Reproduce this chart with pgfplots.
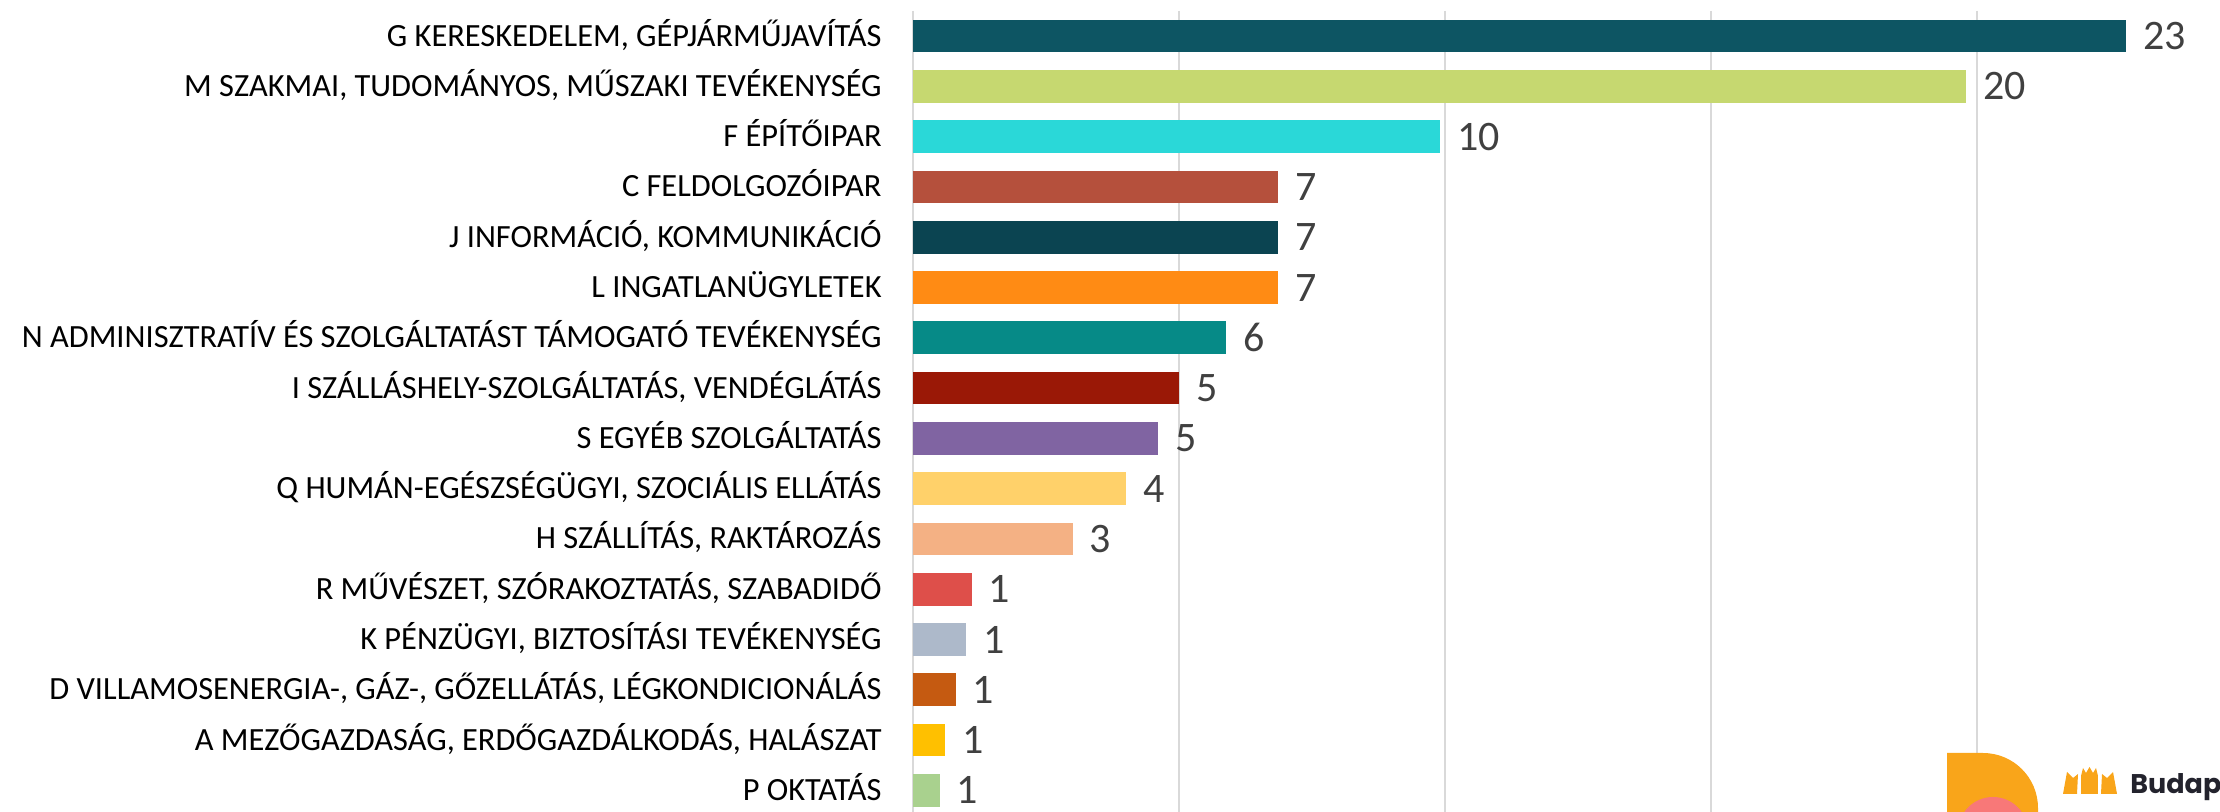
\documentclass[border=0pt]{standalone}
\usepackage{fontspec}
\setmainfont{Carlito}
\newfontfamily\pop{Poppins}
\usepackage{pgfplots}
\pgfplotsset{compat=1.18}
\definecolor{cG}{HTML}{0D5563}
\definecolor{cM}{HTML}{C6D870}
\definecolor{cF}{HTML}{2AD8D8}
\definecolor{cC}{HTML}{B5503C}
\definecolor{cJ}{HTML}{0B4451}
\definecolor{cL}{HTML}{FF8B14}
\definecolor{cN}{HTML}{068A87}
\definecolor{cI}{HTML}{9A1806}
\definecolor{cS}{HTML}{8064A2}
\definecolor{cQ}{HTML}{FFD16A}
\definecolor{cH}{HTML}{F4B184}
\definecolor{cR}{HTML}{DE4F4A}
\definecolor{cK}{HTML}{ADB9CA}
\definecolor{cD}{HTML}{C55A11}
\definecolor{cA}{HTML}{FFC000}
\definecolor{cP}{HTML}{A9D18E}
\definecolor{gridc}{HTML}{D9D9D9}
\definecolor{lab}{HTML}{404040}
\definecolor{logoor}{HTML}{F9A51A}
\definecolor{logopk}{HTML}{F87878}
\definecolor{logodk}{HTML}{23232D}
\begin{document}
\begin{tikzpicture}
\begin{axis}[
  at={(0pt,0pt)}, anchor=south west,
  width=653.5pt, height=400.5pt, scale only axis,
  xbar, bar width=0.65, bar shift=0pt,
  xmin=0, xmax=24.57, ymin=-0.5, ymax=15.43, y dir=reverse,
  xtick={0,5,10,15,20}, xticklabels={}, xmajorgrids,
  grid style={draw=gridc, line width=1pt},
  ytick={0,...,15},
  yticklabels={
    {G KERESKEDELEM, GÉPJÁRMŰJAVÍTÁS},
    {M SZAKMAI, TUDOMÁNYOS, MŰSZAKI TEVÉKENYSÉG},
    {F ÉPÍTŐIPAR},
    {C FELDOLGOZÓIPAR},
    {J INFORMÁCIÓ, KOMMUNIKÁCIÓ},
    {L INGATLANÜGYLETEK},
    {N ADMINISZTRATÍV ÉS SZOLGÁLTATÁST TÁMOGATÓ TEVÉKENYSÉG},
    {I SZÁLLÁSHELY-SZOLGÁLTATÁS, VENDÉGLÁTÁS},
    {S EGYÉB SZOLGÁLTATÁS},
    {Q HUMÁN-EGÉSZSÉGÜGYI, SZOCIÁLIS ELLÁTÁS},
    {H SZÁLLÍTÁS, RAKTÁROZÁS},
    {R MŰVÉSZET, SZÓRAKOZTATÁS, SZABADIDŐ},
    {K PÉNZÜGYI, BIZTOSÍTÁSI TEVÉKENYSÉG},
    {D VILLAMOSENERGIA-, GÁZ-, GŐZELLÁTÁS, LÉGKONDICIONÁLÁS},
    {A MEZŐGAZDASÁG, ERDŐGAZDÁLKODÁS, HALÁSZAT},
    {P OKTATÁS}},
  major tick length=0pt,
  axis line style={draw=none},
  y tick label style={font=\fontsize{16.2}{17}\selectfont, text=black, anchor=east,
    inner sep=0pt, xshift=-15.5pt, yshift=-1.8pt, text height=0.64em, text depth=0pt},
  nodes near coords, point meta=explicit symbolic,
  every node near coord/.style={anchor=west, inner sep=0pt, xshift=8.5pt,
    font=\fontsize{21}{21}\selectfont, text=lab},
  clip=false,
]
\addplot[fill=cG, draw=none] coordinates {(22.8,0) [23]};
\addplot[fill=cM, draw=none] coordinates {(19.8,1) [20]};
\addplot[fill=cF, draw=none] coordinates {(9.9,2) [10]};
\addplot[fill=cC, draw=none] coordinates {(6.86,3) [7]};
\addplot[fill=cJ, draw=none] coordinates {(6.86,4) [7]};
\addplot[fill=cL, draw=none] coordinates {(6.86,5) [7]};
\addplot[fill=cN, draw=none] coordinates {(5.88,6) [6]};
\addplot[fill=cI, draw=none] coordinates {(5.0,7) [5]};
\addplot[fill=cS, draw=none] coordinates {(4.6,8) [5]};
\addplot[fill=cQ, draw=none] coordinates {(4.0,9) [4]};
\addplot[fill=cH, draw=none] coordinates {(3.0,10) [3]};
\addplot[fill=cR, draw=none] coordinates {(1.1,11) [1]};
\addplot[fill=cK, draw=none] coordinates {(1.0,12) [1]};
\addplot[fill=cD, draw=none] coordinates {(0.8,13) [1]};
\addplot[fill=cA, draw=none] coordinates {(0.6,14) [1]};
\addplot[fill=cP, draw=none] coordinates {(0.5,15) [1]};
\end{axis}
% logo (decoration, bottom right)
\fill[logoor] (517pt,-10pt) -- (517pt,29.5pt) -- (535pt,29.5pt)
  arc[start angle=90, end angle=0, radius=27.5pt] -- (562.5pt,-10pt) -- cycle;
\fill[logopk] (540pt,-10pt) circle[radius=17.5pt];
\begin{scope}[logoor]
  \fill (584pt,9pt) rectangle (592.5pt,18pt);
  \fill (584pt,18pt) -- (585pt,22pt) -- (586.5pt,19.5pt) -- (588.25pt,22.5pt) -- (590pt,19.5pt) -- (591.5pt,22pt) -- (592.5pt,18pt) -- cycle;
  \fill (575pt,9pt) -- (577pt,20pt) -- (580pt,17pt) -- (582.5pt,19pt) -- (582pt,9pt) -- cycle;
  \fill (594pt,9pt) -- (594.5pt,19pt) -- (597pt,17pt) -- (600pt,20pt) -- (602pt,9pt) -- cycle;
\end{scope}
\node[anchor=base west, inner sep=0pt, text=logodk, font=\pop\bfseries\fontsize{13.5}{14}\selectfont] at (608.5pt,9pt) {Budapest};
\pgfresetboundingbox
\path (-456.5pt,0pt) rectangle (653.5pt,406pt);
\end{tikzpicture}
\end{document}
